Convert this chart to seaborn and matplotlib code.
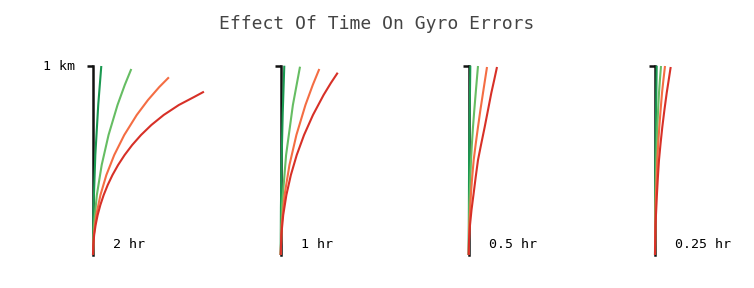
import numpy as np
import pandas as pd
import matplotlib
matplotlib.use("Agg")
import matplotlib.pyplot as plt
import seaborn as sns

# ---------------- data (km) ----------------
TITLE = "Effect Of Time On Gyro Errors"
PANELS = ["2 hr", "1 hr", "0.5 hr", "0.25 hr"]
SERIES = ["g1", "g2", "g3", "g4"]
COLORS = ["#1a9850", "#66bd63", "#f46d43", "#d73027"]
Y_TICK_LABEL = "1 km"

# panel 2 hr
p1_g1_x = [0, 0.0031, 0.0123, 0.0276, 0.0438]
p1_g1_y = [0, 0.2641, 0.5283, 0.7924, 0.9984]
p1_g2_x = [0, 0.0051, 0.0203, 0.0459, 0.0821, 0.1295, 0.1677, 0.2022]
p1_g2_y = [0, 0.1585, 0.3170, 0.4754, 0.6339, 0.7924, 0.8980, 0.9826]
p1_g3_x = [0, 0.0043, 0.0173, 0.0393, 0.0706, 0.1122, 0.1651, 0.2310, 0.2904, 0.3502, 0.4010]
p1_g3_y = [0, 0.1057, 0.2113, 0.3170, 0.4226, 0.5283, 0.6339, 0.7396, 0.8188, 0.8875, 0.9387]
p1_g4_x = [0, 0.0015, 0.0061, 0.0138, 0.0246, 0.0388, 0.0564, 0.0777, 0.1029, 0.1325,
           0.1670, 0.2070, 0.2536, 0.3082, 0.3734, 0.4534, 0.5340, 0.5860]
p1_g4_y = [0, 0.0528, 0.1057, 0.1585, 0.2113, 0.2641, 0.3170, 0.3698, 0.4226, 0.4754,
           0.5283, 0.5811, 0.6339, 0.6867, 0.7396, 0.7924, 0.8347, 0.8627]

# panel 1 hr
p2_g1_x = [0, 0.0012, 0.0048, 0.0107, 0.0190]
p2_g1_y = [0, 0.2500, 0.5000, 0.7500, 1.0000]
p2_g2_x = [0, 0.0071, 0.0285, 0.0644, 0.1020]
p2_g2_y = [0, 0.2641, 0.5283, 0.7924, 0.9947]
p2_g3_x = [0, 0.0051, 0.0204, 0.0462, 0.0829, 0.1307, 0.1693, 0.2039]
p2_g3_y = [0, 0.1585, 0.3170, 0.4754, 0.6339, 0.7924, 0.8980, 0.9826]
p2_g4_x = [0, 0.0033, 0.0133, 0.0300, 0.0537, 0.0847, 0.1233, 0.1704, 0.2265, 0.2650, 0.3011]
p2_g4_y = [0, 0.1057, 0.2113, 0.3170, 0.4226, 0.5283, 0.6339, 0.7396, 0.8452, 0.9086, 0.9630]

# panel 0.5 hr
p3_g1_x = [0, 0.0021, 0.0085]
p3_g1_y = [0, 0.5000, 1.0000]
p3_g2_x = [0, 0.0032, 0.0122, 0.0169, 0.0227, 0.0296, 0.0370, 0.0428, 0.0491]
p3_g2_y = [0, 0.2641, 0.5018, 0.5864, 0.6762, 0.7660, 0.8558, 0.9245, 0.9984]
p3_g3_x = [0, 0.0032, 0.0122, 0.0185, 0.0264, 0.0370, 0.0491, 0.0618, 0.0755, 0.0861, 0.0967]
p3_g3_y = [0, 0.1585, 0.3275, 0.4120, 0.5018, 0.5864, 0.6762, 0.7660, 0.8558, 0.9245, 0.9931]
p3_g4_x = [0, 0.0018, 0.0069, 0.0148, 0.0264, 0.0370, 0.0491, 0.0660, 0.0845, 0.1020,
           0.1194, 0.1347, 0.1495]
p3_g4_y = [0, 0.0792, 0.1585, 0.2377, 0.3275, 0.4120, 0.5018, 0.5864, 0.6762, 0.7660,
           0.8558, 0.9245, 0.9931]

# panel 0.25 hr
p4_g1_x = [0, 0.0022, 0.0090]
p4_g1_y = [0, 0.5000, 1.0000]
p4_g2_x = [0, 0.0032, 0.0069, 0.0122, 0.0164, 0.0211, 0.0259, 0.0317]
p4_g2_y = [0, 0.3381, 0.5018, 0.6762, 0.7660, 0.8558, 0.9245, 0.9984]
p4_g3_x = [0, 0.0032, 0.0122, 0.0169, 0.0227, 0.0296, 0.0370, 0.0444, 0.0528]
p4_g3_y = [0, 0.2641, 0.5018, 0.5864, 0.6762, 0.7660, 0.8558, 0.9245, 0.9984]
p4_g4_x = [0, 0.0026, 0.0106, 0.0153, 0.0211, 0.0291, 0.0386, 0.0497, 0.0618, 0.0724, 0.0829]
p4_g4_y = [0, 0.1585, 0.3275, 0.4120, 0.5018, 0.5864, 0.6762, 0.7660, 0.8558, 0.9245, 0.9931]

curves = {
    0: [(p1_g1_x, p1_g1_y), (p1_g2_x, p1_g2_y), (p1_g3_x, p1_g3_y), (p1_g4_x, p1_g4_y)],
    1: [(p2_g1_x, p2_g1_y), (p2_g2_x, p2_g2_y), (p2_g3_x, p2_g3_y), (p2_g4_x, p2_g4_y)],
    2: [(p3_g1_x, p3_g1_y), (p3_g2_x, p3_g2_y), (p3_g3_x, p3_g3_y), (p3_g4_x, p3_g4_y)],
    3: [(p4_g1_x, p4_g1_y), (p4_g2_x, p4_g2_y), (p4_g3_x, p4_g3_y), (p4_g4_x, p4_g4_y)],
}

# ---------------- figure ----------------
sns.set_style("white")
plt.rcParams["font.family"] = ["DejaVu Sans Mono", "DejaVu Sans"]

W, H = 754, 288
fig = plt.figure(figsize=(W / 100, H / 100), dpi=100)

axis_px = [93, 280.7, 468.7, 655]
base_px = 255
km_px = 189.3
ax_w_px = 150
palette = dict(zip(SERIES, COLORS))

for i, label in enumerate(PANELS):
    ax = fig.add_axes([axis_px[i] / W, (H - base_px) / H, ax_w_px / W, km_px / H])
    rows = []
    for s, (xs, ys) in zip(SERIES, curves[i]):
        for k, (xv, yv) in enumerate(zip(xs, ys)):
            rows.append({"series": s, "x": xv, "y": yv, "order": k})
    df = pd.DataFrame(rows)
    sns.lineplot(data=df, x="x", y="y", hue="series", palette=palette,
                 sort=False, estimator=None, legend=False, linewidth=1.5, ax=ax)
    for ln in ax.lines:
        ln.set_clip_on(False)
        ln.set_zorder(3)
        ln.set_solid_capstyle("butt")
        ln.set_solid_joinstyle("round")
    ax.set_xlim(0, ax_w_px / km_px)
    ax.set_ylim(0, 1)
    for sp in ["top", "right", "bottom"]:
        ax.spines[sp].set_visible(False)
    ax.spines["left"].set_linewidth(1.8)
    ax.spines["left"].set_color("#111111")
    ax.spines["left"].set_zorder(2)
    ax.set_xticks([])
    ax.set_yticks([1])
    ax.set_yticklabels([""])
    ax.tick_params(axis="y", length=4, width=1.8, color="#111111", direction="out", left=True)
    ax.set_xlabel("")
    ax.set_ylabel("")
    ax.patch.set_alpha(0)
    ax.annotate(label, xy=(0, 0), xycoords="data", xytext=(20, 10),
                textcoords="offset pixels", ha="left", va="center",
                fontsize=9.5, color="black", family="DejaVu Sans Mono")

fig.text(75 / W, 1 - 66 / H, Y_TICK_LABEL, ha="right", va="center",
         fontsize=9.5, color="black", family="DejaVu Sans Mono")
fig.text(0.5, 1 - 24 / H, TITLE, ha="center", va="center",
         fontsize=13, color="#444444", family="DejaVu Sans Mono")

fig.savefig("out.png", dpi=100)
